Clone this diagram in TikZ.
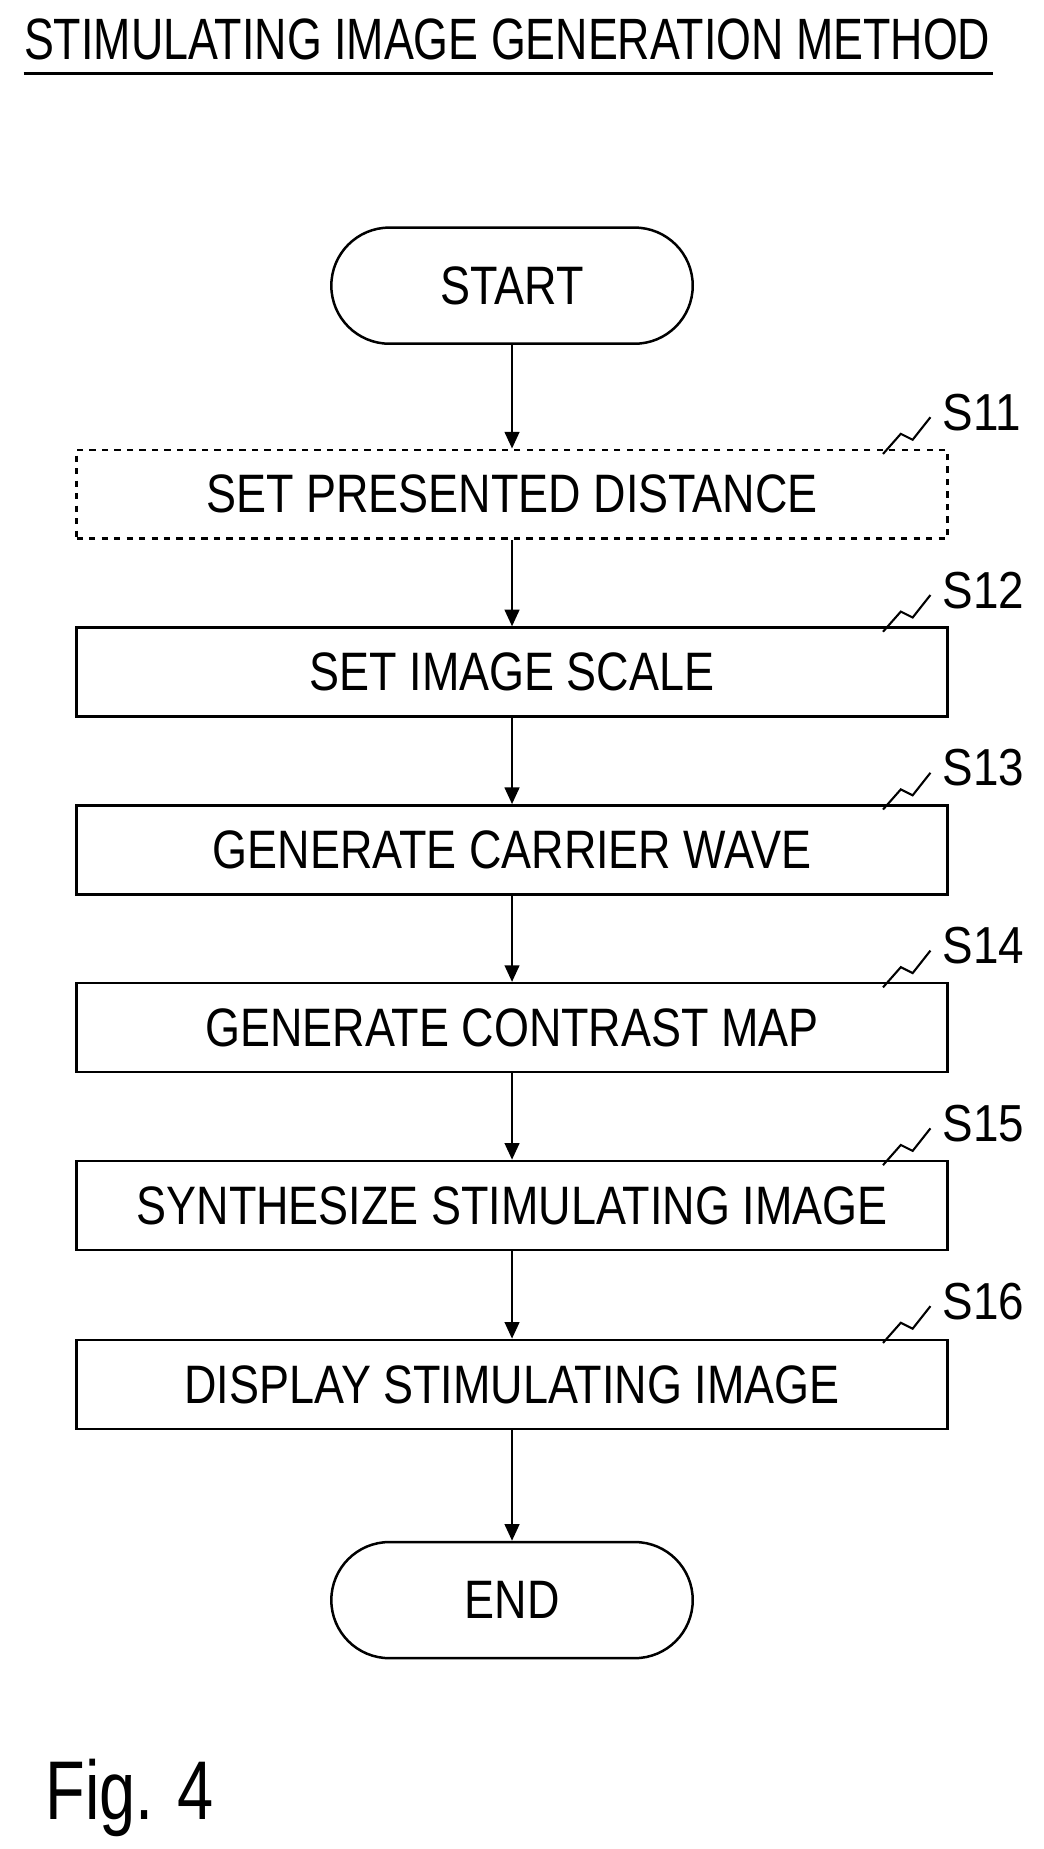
\documentclass[tikz,border=0pt]{standalone}
\usepackage{fontspec}
\setmainfont{Liberation Sans}
\usetikzlibrary{arrows.meta}
\newcommand{\nx}[1]{\scalebox{0.83}[1]{#1}}
\begin{document}
\begin{tikzpicture}[x=0.02cm,y=-0.02cm,
  stepbox/.style={draw,line width=1.2pt,minimum width=14.7cm,minimum height=1.5cm,font=\fontsize{26}{30}\selectfont,inner sep=0pt},
  term/.style={draw,line width=1.2pt,rounded corners=0.98cm,minimum width=6.1cm,minimum height=1.96cm,font=\fontsize{26}{30}\selectfont},
  lbl/.style={font=\fontsize{25}{28}\selectfont,anchor=west,inner sep=0pt},
  flow/.style={line width=1.2pt,-{Triangle[length=8pt,width=7pt]}},
  sq/.style={line width=1pt}]
\useasboundingbox (0,0) rectangle (880,1560);
\node[anchor=base west,inner sep=0pt,font=\fontsize{28}{32}\selectfont] (title) at (20,50) {\scalebox{0.768}[1]{STIMULATING IMAGE GENERATION METHOD}};
\draw[line width=1.5pt] (20,62) -- (838,62);
\node[term] (start) at (432,241) {\nx{START}};
\node[stepbox,dashed] (s11) at (432,417) {\nx{SET PRESENTED DISTANCE}};
\node[stepbox] (s12) at (432,567) {\nx{SET IMAGE SCALE}};
\node[stepbox] (s13) at (432,717) {\nx{GENERATE CARRIER WAVE}};
\node[stepbox] (s14) at (432,867) {\nx{GENERATE CONTRAST MAP}};
\node[stepbox] (s15) at (432,1017) {\nx{SYNTHESIZE STIMULATING IMAGE}};
\node[stepbox] (s16) at (432,1168) {\nx{DISPLAY STIMULATING IMAGE}};
\node[term] (end) at (432,1350) {\nx{END}};
\draw[flow] (start) -- (s11);
\draw[flow] (s11) -- (s12);
\draw[flow] (s12) -- (s13);
\draw[flow] (s13) -- (s14);
\draw[flow] (s14) -- (s15);
\draw[flow] (s15) -- (s16);
\draw[flow] (s16) -- (end);
\foreach \n/\y/\t in {a/380/S11,b/530/S12,c/680/S13,d/830/S14,e/980/S15,f/1130/S16}{
  \draw[sq] (745,\y+3) -- (760,\y-14) -- (770,\y-9) -- (785,\y-28);
  \node[lbl] (l\n) at (795,\y-32) {\scalebox{0.88}[1]{\t}};
}
\node[anchor=base west,inner sep=0pt,font=\fontsize{40}{44}\selectfont] (fig) at (38,1535) {\scalebox{0.78}[1]{Fig. 4}};
\end{tikzpicture}
\end{document}
